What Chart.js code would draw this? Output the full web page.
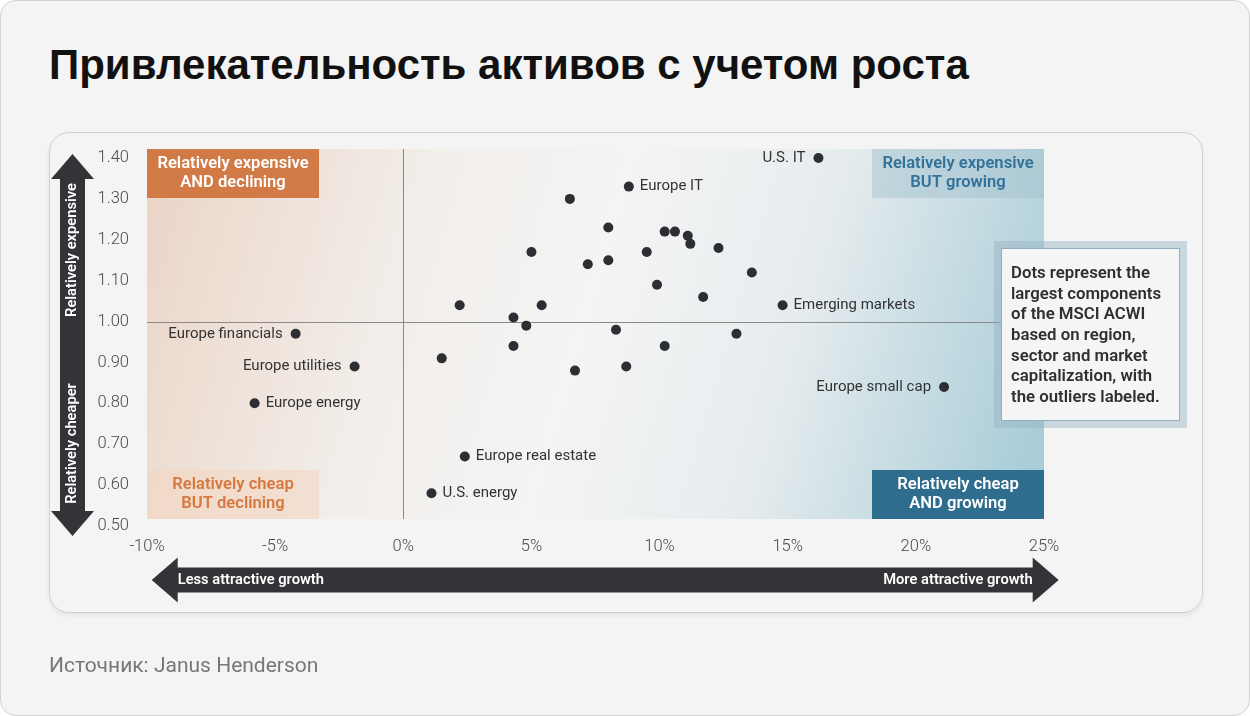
<!DOCTYPE html>
<html>
<head>
<meta charset="utf-8">
<title>Привлекательность активов с учетом роста</title>
<script src="https://cdn.jsdelivr.net/npm/chart.js@4.4.1/dist/chart.umd.min.js"></script>
<style>
    html, body { margin: 0; padding: 0; background: #ffffff; }
    #page {
        position: relative; width: 1250px; height: 716px; box-sizing: border-box;
        border: 1px solid #d2d2d2; border-radius: 16px; background: #f4f4f4; overflow: hidden;
    }
    #title {
        position: absolute; left: 48px; top: 40px; margin: 0;
        font: bold 42px "Liberation Sans", Arial, sans-serif; color: #111111;
    }
    #card {
        position: absolute; left: 48px; top: 131px; width: 1154px; height: 481px; box-sizing: border-box;
        border: 1px solid #cfcfcf; border-radius: 20px; background: #f4f4f4;
        box-shadow: 0 3px 5px rgba(0, 0, 0, 0.06);
    }
    #source {
        position: absolute; left: 48px; top: 652px;
        font: 21px Roboto, sans-serif; color: #777777;
    }
    #chart { position: absolute; left: 0; top: 0; }
</style>
</head>
<body>
<div id="page">
    <h1 id="title">Привлекательность активов с учетом роста</h1>
    <div id="card"></div>
    <canvas id="chart" width="1250" height="716"></canvas>
    <div id="source">Источник: Janus Henderson</div>
</div>
<script>
'use strict';

// Growth (x, %) and relative valuation (y) of each component
const growth = [16.2, 8.8, 6.5, 8.0, 10.2, 10.6, 11.1, 11.2, 12.3, 5.0, 9.5, 7.2, 8.0, 13.6, 9.9, 11.7,
    14.8, 2.2, 5.4, 4.3, 4.8, 8.3, 13.0, 4.3, 10.2, 1.5, 6.7, 8.7, 2.4, 1.1, -4.2, -1.9, -5.8, 21.1];
const valuation = [1.40, 1.33, 1.30, 1.23, 1.22, 1.22, 1.21, 1.19, 1.18, 1.17, 1.17, 1.14, 1.15, 1.12, 1.09, 1.06,
    1.04, 1.04, 1.04, 1.01, 0.99, 0.98, 0.97, 0.94, 0.94, 0.91, 0.88, 0.89, 0.67, 0.58, 0.97, 0.89, 0.80, 0.84];
const names = ['U.S. IT', 'Europe IT', '', '', '', '', '', '', '', '', '', '', '', '', '', '',
    'Emerging markets', '', '', '', '', '', '', '', '', '', '', '', 'Europe real estate', 'U.S. energy',
    'Europe financials', 'Europe utilities', 'Europe energy', 'Europe small cap'];

const xTickValues = [-10, -5, 0, 5, 10, 15, 20, 25];
const xTickLabels = ['-10%', '-5%', '0%', '5%', '10%', '15%', '20%', '25%'];
const yTickValues = [0.5, 0.6, 0.7, 0.8, 0.9, 1.0, 1.1, 1.2, 1.3, 1.4];
const yTickLabels = ['0.50', '0.60', '0.70', '0.80', '0.90', '1.00', '1.10', '1.20', '1.30', '1.40'];

const quadrantTitles = [
    ['Relatively expensive', 'AND declining'],
    ['Relatively expensive', 'BUT growing'],
    ['Relatively cheap', 'BUT declining'],
    ['Relatively cheap', 'AND growing']
];
const noteLines = ['Dots represent the', 'largest components', 'of the MSCI ACWI', 'based on region,',
    'sector and market', 'capitalization, with', 'the outliers labeled.'];
const labelsOnLeft = ['U.S. IT', 'Europe financials', 'Europe utilities', 'Europe small cap'];

const DARK = '#323437';
const ORANGE = '#d27a45';
const BLUE = '#2f6d8e';
const FONT = 'Roboto, "Noto Sans", sans-serif';

function drawLines(ctx, lines, cx, cy, gap) {
    const start = cy - (lines.length - 1) * gap / 2;
    lines.forEach((line, i) => ctx.fillText(line, cx, start + i * gap));
}

// Background gradient, quadrant boxes and cross lines
const quadrantPlugin = {
    id: 'quadrants',
    beforeDatasetsDraw(chart) {
        const ctx = chart.ctx;
        const area = chart.chartArea;
        const x = chart.scales.x;
        const y = chart.scales.y;
        const top = area.top - 9;
        const bottom = area.bottom - 7;
        const boxW = 172;
        const boxH = 49;

        ctx.save();
        const grad = ctx.createLinearGradient(area.left, top, area.right, top + 260);
        grad.addColorStop(0, '#ead4c5');
        grad.addColorStop(0.3, '#f2eeea');
        grad.addColorStop(0.5, '#f4f4f4');
        grad.addColorStop(0.72, '#e6ecee');
        grad.addColorStop(1, '#a9cdd8');
        ctx.fillStyle = grad;
        ctx.fillRect(area.left, top, area.right - area.left, bottom - top);

        // quadrant boxes
        ctx.fillStyle = ORANGE;
        ctx.fillRect(area.left, top, boxW, boxH);
        ctx.fillStyle = 'rgba(160, 190, 205, 0.45)';
        ctx.fillRect(area.right - boxW, top, boxW, boxH);
        ctx.fillStyle = 'rgba(243, 215, 195, 0.6)';
        ctx.fillRect(area.left, bottom - boxH, boxW, boxH);
        ctx.fillStyle = BLUE;
        ctx.fillRect(area.right - boxW, bottom - boxH, boxW, boxH);

        ctx.font = '600 16.6px ' + FONT;
        ctx.textAlign = 'center';
        ctx.textBaseline = 'middle';
        ctx.fillStyle = '#ffffff';
        drawLines(ctx, quadrantTitles[0], area.left + boxW / 2, top + boxH / 2, 19.5);
        ctx.fillStyle = '#32729a';
        drawLines(ctx, quadrantTitles[1], area.right - boxW / 2, top + boxH / 2, 19.5);
        ctx.fillStyle = '#d6783f';
        drawLines(ctx, quadrantTitles[2], area.left + boxW / 2, bottom - boxH / 2, 19.5);
        ctx.fillStyle = '#ffffff';
        drawLines(ctx, quadrantTitles[3], area.right - boxW / 2, bottom - boxH / 2, 19.5);

        // cross lines at 0% and 1.00
        ctx.strokeStyle = '#8a8a8a';
        ctx.lineWidth = 1;
        const x0 = Math.round(x.getPixelForValue(0)) + 0.5;
        const y1 = Math.round(y.getPixelForValue(1)) + 0.5;
        ctx.beginPath();
        ctx.moveTo(x0, top);
        ctx.lineTo(x0, bottom);
        ctx.moveTo(area.left, y1);
        ctx.lineTo(area.right, y1);
        ctx.stroke();
        ctx.restore();
    }
};

// Point names, note box and the two axis arrows
const annotatePlugin = {
    id: 'annotate',
    afterDatasetsDraw(chart) {
        const ctx = chart.ctx;
        const area = chart.chartArea;
        const meta = chart.getDatasetMeta(0);

        ctx.save();
        ctx.font = '15px ' + FONT;
        ctx.fillStyle = '#333333';
        ctx.textBaseline = 'middle';
        meta.data.forEach((pt, i) => {
            if (!names[i]) return;
            if (labelsOnLeft.includes(names[i])) {
                ctx.textAlign = 'right';
                ctx.fillText(names[i], pt.x - 13, pt.y);
            } else {
                ctx.textAlign = 'left';
                ctx.fillText(names[i], pt.x + 11, pt.y);
            }
        });

        // note box
        const bx = area.right - 50;
        const by = area.top + 83;
        ctx.fillStyle = 'rgba(150, 178, 192, 0.45)';
        ctx.fillRect(bx, by, 193, 187);
        ctx.fillStyle = '#f5f5f5';
        ctx.fillRect(bx + 7, by + 7, 179, 173);
        ctx.strokeStyle = '#8fb0c3';
        ctx.lineWidth = 1;
        ctx.strokeRect(bx + 7.5, by + 7.5, 178, 172);
        ctx.fillStyle = '#2e2f33';
        ctx.font = '600 16.8px ' + FONT;
        ctx.textAlign = 'left';
        noteLines.forEach((line, i) => ctx.fillText(line, bx + 17, by + 33 + i * 20.6));

        // vertical arrow
        ctx.fillStyle = DARK;
        const cx = area.left - 74.5;
        const upTip = area.top - 4;
        const downTip = area.bottom + 10;
        ctx.beginPath();
        ctx.moveTo(cx, upTip);
        ctx.lineTo(cx + 21.5, upTip + 25);
        ctx.lineTo(cx + 12.5, upTip + 25);
        ctx.lineTo(cx + 12.5, downTip - 25);
        ctx.lineTo(cx + 21.5, downTip - 25);
        ctx.lineTo(cx, downTip);
        ctx.lineTo(cx - 21.5, downTip - 25);
        ctx.lineTo(cx - 12.5, downTip - 25);
        ctx.lineTo(cx - 12.5, upTip + 25);
        ctx.lineTo(cx - 21.5, upTip + 25);
        ctx.closePath();
        ctx.fill();

        // horizontal arrow
        const cy = area.bottom + 54;
        const leftTip = area.left + 4.7;
        const rightTip = area.right + 14.7;
        ctx.beginPath();
        ctx.moveTo(leftTip, cy);
        ctx.lineTo(leftTip + 26, cy - 22.5);
        ctx.lineTo(leftTip + 26, cy - 12.5);
        ctx.lineTo(rightTip - 26, cy - 12.5);
        ctx.lineTo(rightTip - 26, cy - 22.5);
        ctx.lineTo(rightTip, cy);
        ctx.lineTo(rightTip - 26, cy + 22.5);
        ctx.lineTo(rightTip - 26, cy + 12.5);
        ctx.lineTo(leftTip + 26, cy + 12.5);
        ctx.lineTo(leftTip + 26, cy + 22.5);
        ctx.closePath();
        ctx.fill();

        ctx.fillStyle = '#ffffff';
        ctx.font = '600 14.7px ' + FONT;
        ctx.textAlign = 'left';
        ctx.fillText('Less attractive growth', leftTip + 26, cy);
        ctx.textAlign = 'right';
        ctx.fillText('More attractive growth', rightTip - 26, cy);

        ctx.translate(cx, 0);
        ctx.rotate(-Math.PI / 2);
        ctx.textAlign = 'center';
        ctx.fillText('Relatively expensive', -249, 0);
        ctx.fillText('Relatively cheaper', -442.5, 0);
        ctx.restore();
    }
};

const ctx = document.getElementById('chart').getContext('2d');

new Chart(ctx, {
    type: 'scatter',
    data: {
        datasets: [{
            data: growth.map((g, i) => ({ x: g, y: valuation[i] })),
            clip: false,
            pointRadius: 5,
            pointHoverRadius: 5,
            pointBorderWidth: 0,
            pointBackgroundColor: '#2d2e33'
        }]
    },
    options: {
        responsive: false,
        animation: false,
        events: [],
        layout: { padding: { left: 96, top: 157, right: 207, bottom: 151 } },
        plugins: {
            legend: { display: false },
            tooltip: { enabled: false }
        },
        scales: {
            x: {
                type: 'linear',
                min: -10,
                max: 25,
                grid: { display: false, drawTicks: false },
                border: { display: false },
                afterBuildTicks: scale => { scale.ticks = xTickValues.map(v => ({ value: v })); },
                afterFit: scale => { scale.height = 40; },
                ticks: {
                    padding: 11,
                    color: '#4a4a4a',
                    font: { family: 'Roboto', size: 16.5, weight: '300' },
                    callback: (value, index) => xTickLabels[index]
                }
            },
            y: {
                type: 'linear',
                min: 0.5,
                max: 1.4,
                grid: { display: false, drawTicks: false },
                border: { display: false },
                afterBuildTicks: scale => { scale.ticks = yTickValues.map(v => ({ value: v })); },
                afterFit: scale => { scale.width = 50; },
                ticks: {
                    padding: 18,
                    color: '#4a4a4a',
                    font: { family: 'Roboto', size: 16.5, weight: '300' },
                    callback: (value, index) => yTickLabels[index]
                }
            }
        }
    },
    plugins: [quadrantPlugin, annotatePlugin]
});
</script>
</body>
</html>
